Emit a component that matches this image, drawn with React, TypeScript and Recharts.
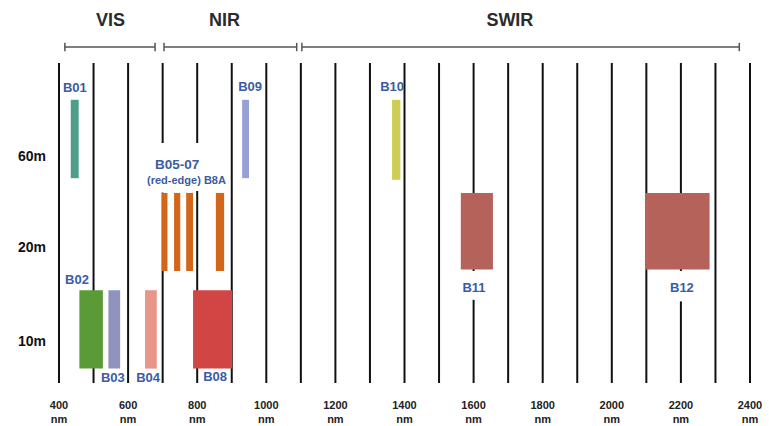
import React from "react";
import {
  ComposedChart,
  XAxis,
  YAxis,
  ReferenceLine,
  ReferenceArea,
  Scatter,
} from "recharts";

// wavelength grid (nm)
const gridLines = [
  400, 500, 600, 700, 800, 900, 1000, 1100, 1200, 1300, 1400, 1500, 1600,
  1700, 1800, 1900, 2000, 2100, 2200, 2300, 2400,
];
const wavelengthTicks = [400, 600, 800, 1000, 1200, 1400, 1600, 1800, 2000, 2200, 2400];

// gaps in grid lines where labels sit (y units)
const lineGaps: Record<number, [number, number]> = {
  700: [59.5, 75],
  800: [60, 75],
  1600: [26, 35],
  2200: [25.5, 35],
};

// spatial resolution rows
const resolutionTicks = [13, 42.5, 71];
const resolutionLabels: Record<number, string> = { 13: "10m", 42.5: "20m", 71: "60m" };

// spectral bands: wavelength range, vertical extent, colour
const bands = [
  { name: "B01", from: 434, to: 457, low: 64, high: 88.5, color: "#4f9e8c" },
  { name: "B09", from: 930, to: 950, low: 64, high: 88.5, color: "#97a1d6" },
  { name: "B10", from: 1364, to: 1388, low: 63.5, high: 88.5, color: "#cdcd55" },
  { name: "B05", from: 698, to: 714, low: 35, high: 59.4, color: "#d2671c" },
  { name: "B06", from: 733, to: 751, low: 35, high: 59.4, color: "#d2671c" },
  { name: "B07", from: 768, to: 788, low: 35, high: 59.4, color: "#d2671c" },
  { name: "B8A", from: 854, to: 878, low: 35, high: 59.4, color: "#d2671c" },
  { name: "B02", from: 459, to: 527, low: 4.5, high: 29, color: "#5a9b38" },
  { name: "B03", from: 543, to: 577, low: 4.5, high: 29, color: "#8f93be" },
  { name: "B04", from: 649, to: 683, low: 4.5, high: 29, color: "#e8958a" },
  { name: "B08", from: 788, to: 901, low: 4.5, high: 29, color: "#d24545" },
  { name: "B11", from: 1563, to: 1656, low: 35.5, high: 59.4, color: "#b4625a" },
  { name: "B12", from: 2096, to: 2283, low: 35.5, high: 59.4, color: "#b4625a" },
];

const bandLabels = [
  { text: "B01", x: 446, y: 92.2, size: 13 },
  { text: "B09", x: 953, y: 92.8, size: 13 },
  { text: "B10", x: 1364, y: 92.8, size: 13 },
  { text: "B05-07", x: 742, y: 68.4, size: 13.5 },
  { text: "(red-edge) B8A", x: 769, y: 63.4, size: 11 },
  { text: "B02", x: 452, y: 32.5, size: 13 },
  { text: "B03", x: 556, y: 1.7, size: 13 },
  { text: "B04", x: 658, y: 1.7, size: 13 },
  { text: "B08", x: 852, y: 1.9, size: 13 },
  { text: "B11", x: 1601, y: 29.7, size: 13 },
  { text: "B12", x: 2203, y: 29.7, size: 13 },
];

// spectral regions shown as brackets above the grid
const regions = [
  { name: "VIS", from: 417, to: 678, labelX: 549 },
  { name: "NIR", from: 704, to: 1088, labelX: 879 },
  { name: "SWIR", from: 1103, to: 2369, labelX: 1705 },
];
const bracketY = 105;
const regionLabelY = 113.4;

const FONT = "'Liberation Sans', Arial, sans-serif";
const BLUE = "#3b5ba5";

const segments = gridLines.flatMap((x) => {
  const gap = lineGaps[x];
  if (!gap) return [{ x, from: 0, to: 100 }];
  return [
    { x, from: 0, to: gap[0] },
    { x, from: gap[1], to: 100 },
  ];
});

const regionLabelData = regions.map((r) => ({ text: r.name, x: r.labelX, y: regionLabelY }));

const WaveTick = (props: any) => {
  const { x, y, payload } = props;
  return (
    <g>
      <text x={x} y={y + 14} textAnchor="middle" dominantBaseline="central"
        fontFamily={FONT} fontSize={11} fontWeight="bold" fill="#222">
        {payload.value}
      </text>
      <text x={x} y={y + 28} textAnchor="middle" dominantBaseline="central"
        fontFamily={FONT} fontSize={11} fontWeight="bold" fill="#222">
        nm
      </text>
    </g>
  );
};

const ResTick = (props: any) => {
  const { x, y, payload } = props;
  return (
    <text x={x - 5} y={y} textAnchor="end" dominantBaseline="central"
      fontFamily={FONT} fontSize={14} fontWeight="bold" fill="#111">
      {resolutionLabels[payload.value]}
    </text>
  );
};

const BandText = (props: any) => {
  const { cx, cy, payload } = props;
  return (
    <text x={cx} y={cy} textAnchor="middle" dominantBaseline="central"
      fontFamily={FONT} fontSize={payload.size} fontWeight="bold" fill={BLUE}>
      {payload.text}
    </text>
  );
};

const RegionText = (props: any) => {
  const { cx, cy, payload } = props;
  return (
    <text x={cx} y={cy} textAnchor="middle" dominantBaseline="central"
      fontFamily={FONT} fontSize={18} fontWeight="bold" fill="#2b2b2b">
      {payload.text}
    </text>
  );
};

export default function App() {
  return (
    <div style={{ position: "absolute", left: 0, top: 0, background: "#fff" }}>
      <ComposedChart width={769} height={426} margin={{ top: 7, right: 19, bottom: 0, left: 0 }}>
        <XAxis
          type="number"
          dataKey="x"
          domain={[400, 2400]}
          ticks={wavelengthTicks}
          allowDataOverflow
          axisLine={false}
          tickLine={false}
          height={43}
          tick={<WaveTick />}
          interval={0}
        />
        <YAxis
          type="number"
          dataKey="y"
          domain={[0, 117.5]}
          ticks={resolutionTicks}
          allowDataOverflow
          axisLine={false}
          tickLine={false}
          width={59}
          tick={<ResTick />}
          interval={0}
        />
        {segments.map((s, i) => (
          <ReferenceLine
            key={`g${i}`}
            segment={[{ x: s.x, y: s.from }, { x: s.x, y: s.to }]}
            stroke="#111"
            strokeWidth={2}
            zIndex={50}
          />
        ))}
        {regions.map((r) => (
          <ReferenceLine
            key={`r${r.name}`}
            segment={[{ x: r.from, y: bracketY }, { x: r.to, y: bracketY }]}
            stroke="#555"
            strokeWidth={1.5}
          />
        ))}
        {regions.flatMap((r) =>
          [r.from, r.to].map((x) => (
            <ReferenceLine
              key={`e${r.name}${x}`}
              segment={[{ x, y: bracketY - 1.3 }, { x, y: bracketY + 1.3 }]}
              stroke="#555"
              strokeWidth={1.5}
            />
          ))
        )}
        {bands.map((b) => (
          <ReferenceArea
            key={b.name}
            x1={b.from}
            x2={b.to}
            y1={b.low}
            y2={b.high}
            fill={b.color}
            fillOpacity={1}
            stroke="none"
            zIndex={150}
          />
        ))}
        <Scatter data={bandLabels} dataKey="y" shape={<BandText />} isAnimationActive={false} />
        <Scatter data={regionLabelData} dataKey="y" shape={<RegionText />} isAnimationActive={false} />
      </ComposedChart>
    </div>
  );
}
